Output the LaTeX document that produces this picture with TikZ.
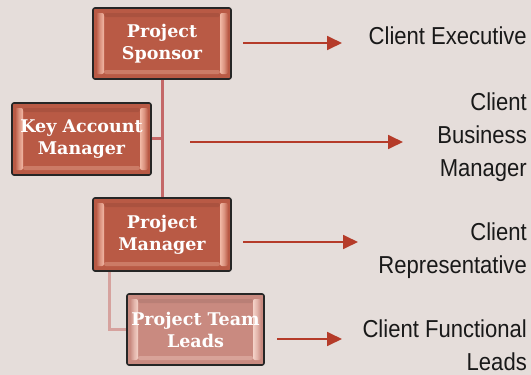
\documentclass[tikz,border=0pt]{standalone}
\usepackage{fontspec}
\usetikzlibrary{arrows.meta,calc}
\newfontfamily\boxfont{DejaVu Serif}
\newfontfamily\rfont[FakeStretch=0.9]{Liberation Sans}
\definecolor{bg}{HTML}{E5DDDA}
\definecolor{boxbase}{HTML}{B95A45}
\definecolor{boxlight}{HTML}{F2B9A6}
\definecolor{ptlbase}{HTML}{C98A80}
\definecolor{ptllight}{HTML}{F4D2C8}
\definecolor{conn}{HTML}{C46868}
\definecolor{connlight}{HTML}{D6A29E}
\definecolor{arr}{HTML}{B53B29}
\tikzset{
  bevel/.style n args={2}{
    path picture={
      \fill[#1] (path picture bounding box.south west) rectangle (path picture bounding box.north east);
      \shade[left color=#1, right color=#2, middle color=#2!60!#1]
        ($(path picture bounding box.north west)+(3pt,-5pt)$) rectangle ($(path picture bounding box.south west)+(11pt,5pt)$);
      \shade[left color=#2, right color=#1, middle color=#2!60!#1]
        ($(path picture bounding box.north east)+(-11pt,-5pt)$) rectangle ($(path picture bounding box.south east)+(-3pt,5pt)$);
      \fill[#1!85!black, opacity=0.5] ($(path picture bounding box.north west)+(11pt,-5pt)$) rectangle ($(path picture bounding box.north east)+(-11pt,-9pt)$);
      \fill[#2, opacity=0.35] ($(path picture bounding box.south west)+(11pt,5pt)$) rectangle ($(path picture bounding box.south east)+(-11pt,9pt)$);
    }},
  rolebox/.style={draw=black!85, line width=1.6pt, rounded corners=2pt,
    minimum width=138pt, minimum height=71pt, inner sep=0pt,
    text=white, align=center, font=\boxfont\bfseries\fontsize{17.5}{22}\selectfont},
  mainbox/.style={rolebox, bevel={boxbase}{boxlight}},
  lightbox/.style={rolebox, bevel={ptlbase}{ptllight}},
  clientlabel/.style={anchor=base east, inner sep=0pt, align=right,
    font=\rfont\fontsize{24.5}{33}\selectfont, text=black!90},
  tree/.style={conn, line width=3pt},
  treelight/.style={connlight, line width=3pt},
  link/.style={arr, line width=1.8pt, -{Triangle[length=15pt,width=14pt]}}
}
\begin{document}
\begin{tikzpicture}[x=1pt,y=-1pt]
\fill[bg] (0,0) rectangle (531,375);
\useasboundingbox (0,0) rectangle (531,375);

% connectors (behind boxes)
\coordinate (trunkTop) at (162,78);
\coordinate (trunkBot) at (162,199);
\coordinate (kamJoin) at (162,138);
\coordinate (pmDrop) at (109,270);
\coordinate (ptlJoin) at (109,329.5);
\draw[treelight] (pmDrop) -- (ptlJoin) -- (128,329.5);
\draw[tree] (trunkTop) -- (trunkBot);
\draw[tree] (150,138) -- (kamJoin);

% boxes
\node[mainbox] (sponsor) at (162,43.5) {Project\\Sponsor};
\node[mainbox, minimum width=139pt, minimum height=72pt] (kam) at (81.5,139) {Key Account\\Manager};
\node[mainbox, minimum height=73pt] (pm) at (162,234.5) {Project\\Manager};
\node[lightbox, minimum width=137pt] (ptl) at (195.5,329.5) {Project Team\\Leads};

% client labels (anchored at the baseline of their last line)
\node[clientlabel] (ce) at (527,44) {Client Executive};
\node[clientlabel] (cbm) at (527,176) {Client\\Business\\Manager};
\node[clientlabel] (cr) at (527,273) {Client\\Representative};
\node[clientlabel] (cfl) at (527,370) {Client Functional\\Leads};

% arrows
\coordinate (a1s) at (243,43);  \coordinate (a1e) at (342,43);
\coordinate (a2s) at (190,142); \coordinate (a2e) at (403,142);
\coordinate (a3s) at (243,242); \coordinate (a3e) at (358,242);
\coordinate (a4s) at (277,339); \coordinate (a4e) at (342,339);
\draw[link] (a1s) -- (a1e);
\draw[link] (a2s) -- (a2e);
\draw[link] (a3s) -- (a3e);
\draw[link] (a4s) -- (a4e);
\end{tikzpicture}
\end{document}
